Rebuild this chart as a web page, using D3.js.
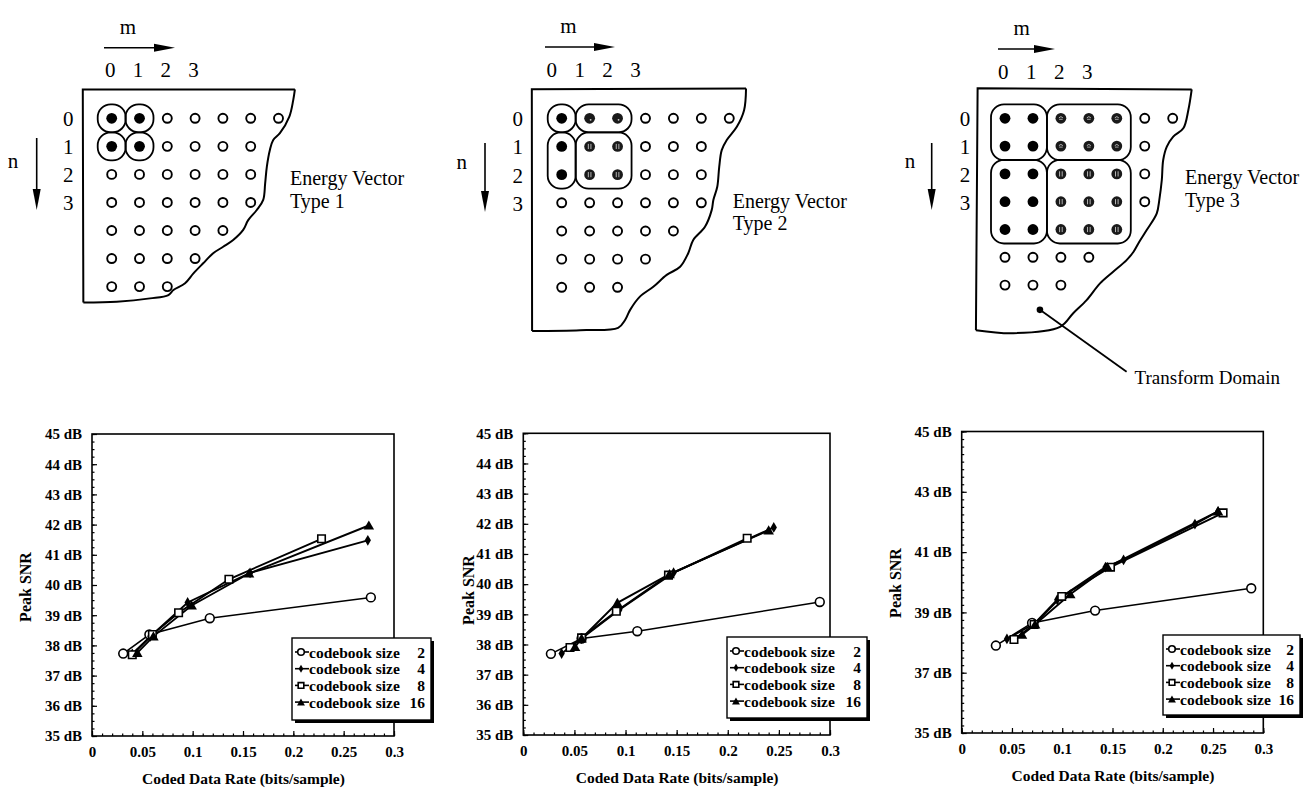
<!DOCTYPE html>
<html>
<head>
<meta charset="utf-8">
<script src="https://cdn.jsdelivr.net/npm/d3@7/dist/d3.min.js"></script>
<style>
  body { margin: 0; background: #fff; }
  svg { display: block; }
  .serif { font-family: "Liberation Serif", "Times New Roman", serif; }
</style>
</head>
<body>
<svg id="fig" width="1312" height="791"></svg>
<script>
// ---- chart data ----
const xTicks = [0, 0.05, 0.1, 0.15, 0.2, 0.25, 0.3];
const yTicksFine = [35, 36, 37, 38, 39, 40, 41, 42, 43, 44, 45];
const yTicksCoarse = [35, 37, 39, 41, 43, 45];
const codebookSizes = ["2", "4", "8", "16"];
const markerKinds = ["circle", "diamond", "square", "triangle"];

// [rate, peak SNR]
const type1Size2 = [[0.031, 37.73], [0.057, 38.36], [0.117, 38.9], [0.277, 39.59]];
const type1Size4 = [[0.040, 37.72], [0.058, 38.3], [0.095, 39.42], [0.157, 40.4], [0.274, 41.48]];
const type1Size8 = [[0.040, 37.69], [0.060, 38.36], [0.086, 39.08], [0.136, 40.19], [0.228, 41.53]];
const type1Size16 = [[0.045, 37.75], [0.061, 38.3], [0.099, 39.32], [0.156, 40.38], [0.275, 41.97]];

const type2Size2 = [[0.027, 37.69], [0.057, 38.2], [0.1115, 38.44], [0.290, 39.41]];
const type2Size4 = [[0.0375, 37.7], [0.057, 38.2], [0.094, 39.15], [0.147, 40.38], [0.245, 41.88]];
const type2Size8 = [[0.0457, 37.9], [0.057, 38.22], [0.091, 39.1], [0.142, 40.3], [0.219, 41.52]];
const type2Size16 = [[0.0506, 37.92], [0.057, 38.2], [0.092, 39.38], [0.143, 40.33], [0.240, 41.78]];

const type3Size2 = [[0.034, 37.9], [0.070, 38.65], [0.1327, 39.06], [0.288, 39.8]];
const type3Size4 = [[0.045, 38.12], [0.072, 38.62], [0.095, 39.42], [0.143, 40.5], [0.161, 40.74], [0.232, 41.93], [0.255, 42.35]];
const type3Size8 = [[0.052, 38.1], [0.072, 38.6], [0.0995, 39.53], [0.148, 40.5], [0.260, 42.3]];
const type3Size16 = [[0.060, 38.26], [0.073, 38.6], [0.108, 39.6], [0.145, 40.5], [0.255, 42.35]];

// ---- diagram data ----
const rowCounts = [7, 6, 6, 6, 5, 4, 3];
const indexLabels = ["0", "1", "2", "3"];

// cells are [col, row]
const type1Cells = { solid: [[0, 0], [1, 0], [0, 1], [1, 1]], dotted: [], hatchH: [], hatchV: [] };
const type1Groups = [[0, 0, 0, 0], [1, 1, 0, 0], [0, 0, 1, 1], [1, 1, 1, 1]]; // c0,c1,r0,r1
const type2Cells = {
  solid: [[0, 0], [0, 1], [0, 2]],
  dotted: [[1, 0], [2, 0]],
  hatchH: [],
  hatchV: [[1, 1], [2, 1], [1, 2], [2, 2]]
};
const type2Groups = [[0, 0, 0, 0], [1, 2, 0, 0], [0, 0, 1, 2], [1, 2, 1, 2]];
const type3Cells = {
  solid: [[0, 0], [1, 0], [0, 1], [1, 1], [0, 2], [1, 2], [0, 3], [1, 3], [0, 4], [1, 4]],
  dotted: [],
  hatchH: [[2, 0], [3, 0], [4, 0], [2, 1], [3, 1], [4, 1]],
  hatchV: [[2, 2], [3, 2], [4, 2], [2, 3], [3, 3], [4, 3], [2, 4], [3, 4], [4, 4]]
};
const type3Groups = [[0, 1, 0, 1], [2, 4, 0, 1], [0, 1, 2, 4], [2, 4, 2, 4]];

// outlines in grid units: corner, right wavy edge, bottom
const type1Edge = [[6.59, -1.03], [6.53, -0.65], [6.39, -0.06], [6.05, 0.53], [5.81, 0.77], [5.69, 1.13],
  [5.58, 1.73], [5.52, 2.32], [5.45, 2.91], [5.22, 3.27], [4.91, 3.63], [4.73, 3.98], [4.37, 4.34],
  [4.01, 4.58], [3.65, 4.81], [3.29, 5.17], [2.94, 5.53], [2.64, 5.88], [2.22, 6.12], [2.04, 6.30],
  [1.38, 6.42], [0.18, 6.54], [-1.02, 6.57]];
const type1Corner = [-1.04, -1.03];
const type2Edge = [[6.6, -1.06], [6.53, -0.29], [6.27, 0.30], [5.91, 0.77], [5.73, 1.13], [5.64, 1.72],
  [5.57, 2.43], [5.43, 2.90], [5.37, 3.26], [5.13, 3.85], [4.71, 4.32], [4.53, 4.79], [4.24, 5.27],
  [3.76, 5.56], [3.28, 5.98], [2.80, 6.33], [2.45, 6.80], [2.27, 7.16], [2.02, 7.44],
  [0.66, 7.52], [-1.06, 7.55]];
const type2Corner = [-1.07, -1.03];
const type3Edge = [[6.68, -1.04], [6.56, -0.30], [6.38, 0.36], [6.02, 0.66], [5.79, 1.02], [5.66, 1.5],
  [5.61, 2.22], [5.52, 2.94], [5.43, 3.42], [5.07, 4.02], [4.8, 4.45], [4.6, 4.8], [4.35, 5.1],
  [3.87, 5.52], [3.40, 5.94], [2.92, 6.54], [2.44, 7.01], [1.97, 7.5], [0.30, 7.73], [-1.04, 7.62]];
const type3Corner = [-0.98, -1.08];
const transformPointer = [[1.25, 6.89], [4.35, 9.12]];

const svg = d3.select("#fig");
svg.append("rect").attr("width", 1312).attr("height", 791).attr("fill", "#fff");

// ---------------- diagrams ----------------
const diagrams = [
  { cells: type1Cells, groups: type1Groups, edge: type1Edge, corner: type1Corner,
    x0: 111.7, step: 27.8, y0: 118.3, rowStep: 28.05, colLabOff: -1.5, colLabY: 70.3, rowLabX: 68.3,
    m: [128, 34], mArrow: [104, 175, 47.7], n: [13, 168], nArrow: [36.7, 138, 210],
    title: ["Energy Vector", "Type 1"], titleX: 290, titleY: [185, 208] },
  { cells: type2Cells, groups: type2Groups, edge: type2Edge, corner: type2Corner,
    x0: 561.7, step: 27.93, y0: 118.3, rowStep: 28.17, colLabOff: -10, colLabY: 70, rowLabX: 517.7,
    m: [568.3, 33], mArrow: [545, 615, 47], n: [461.7, 169], nArrow: [485, 143, 212],
    title: ["Energy Vector", "Type 2"], titleX: 732.7, titleY: [208, 230] },
  { cells: type3Cells, groups: type3Groups, edge: type3Edge, corner: type3Corner,
    x0: 1005, step: 27.95, y0: 118.3, rowStep: 27.8, colLabOff: -1.7, colLabY: 71.7, rowLabX: 965,
    m: [1021.7, 35], mArrow: [998, 1055, 49], n: [910, 168], nArrow: [931.7, 143, 210],
    title: ["Energy Vector", "Type 3"], titleX: 1185, titleY: [184, 207], pointer: true }
];

function arrowHead(g, tip, dir) {
  // dir: "right" or "down"
  const L = 21, W = 4;
  const pts = dir === "right"
    ? [[tip[0], tip[1]], [tip[0] - L, tip[1] - W], [tip[0] - L, tip[1] + W]]
    : [[tip[0], tip[1]], [tip[0] - W, tip[1] - L], [tip[0] + W, tip[1] - L]];
  g.append("path").attr("d", "M" + pts.join("L") + "Z").attr("fill", "#000");
}

diagrams.forEach(d => {
  const g = svg.append("g").attr("class", "serif");
  const cx = d3.scaleLinear().domain([0, 1]).range([d.x0, d.x0 + d.step]);
  const cy = d3.scaleLinear().domain([0, 1]).range([d.y0, d.y0 + d.rowStep]);

  // outline: straight left and top edges, wavy right edge
  const bl = d.edge[d.edge.length - 1];
  const straight = d3.line().x(p => cx(p[0])).y(p => cy(p[1]));
  g.append("path").attr("d", straight([bl, d.corner, d.edge[0]]))
    .attr("fill", "none").attr("stroke", "#000").attr("stroke-width", 2);
  const wavy = d3.line().x(p => cx(p[0])).y(p => cy(p[1])).curve(d3.curveCatmullRom.alpha(0.5));
  g.append("path").attr("d", wavy(d.edge))
    .attr("fill", "none").attr("stroke", "#000").attr("stroke-width", 2);

  // groups
  const pad = 14;
  d.groups.forEach(([c0, c1, r0, r1]) => {
    g.append("rect")
      .attr("x", cx(c0) - pad).attr("y", cy(r0) - pad)
      .attr("width", cx(c1) - cx(c0) + 2 * pad).attr("height", cy(r1) - cy(r0) + 2 * pad)
      .attr("rx", 13).attr("fill", "none").attr("stroke", "#000").attr("stroke-width", 1.8);
  });

  // cells
  const kindOf = {};
  Object.entries(d.cells).forEach(([k, list]) => list.forEach(([c, r]) => { kindOf[c + "," + r] = k; }));
  const cells = [];
  rowCounts.forEach((n, r) => d3.range(n).forEach(c => cells.push({ c, r, kind: kindOf[c + "," + r] || "open" })));

  cells.forEach(p => {
    const x = cx(p.c), y = cy(p.r);
    if (p.kind === "open") {
      g.append("circle").attr("cx", x).attr("cy", y).attr("r", 4.5)
        .attr("fill", "#fff").attr("stroke", "#000").attr("stroke-width", 1.9);
    } else {
      g.append("circle").attr("cx", x).attr("cy", y).attr("r", 5.4).attr("fill", p.kind === "solid" ? "#000" : "#1a1a1a");
      if (p.kind === "hatchV") {
        [-1.3, 1.3].forEach(o => g.append("line").attr("x1", x + o).attr("x2", x + o)
          .attr("y1", y - 2.6).attr("y2", y + 2.6).attr("stroke", "#ddd").attr("stroke-width", 0.8));
      } else if (p.kind === "hatchH") {
        g.append("path").attr("d", `M${x - 2},${y - 0.5}Q${x},${y - 2.8} ${x + 2},${y - 0.5}`)
          .attr("fill", "none").attr("stroke", "#ddd").attr("stroke-width", 0.8);
        g.append("line").attr("x1", x - 1.8).attr("x2", x + 1.8).attr("y1", y + 1).attr("y2", y + 1)
          .attr("stroke", "#ddd").attr("stroke-width", 0.7);
      } else if (p.kind === "dotted") {
        g.append("circle").attr("cx", x + 1).attr("cy", y + 1.5).attr("r", 0.9).attr("fill", "#ccc");
      }
    }
  });

  // index labels
  indexLabels.forEach((t, i) => {
    g.append("text").attr("x", cx(i) + d.colLabOff).attr("y", d.colLabY)
      .attr("text-anchor", "middle").attr("dominant-baseline", "central")
      .attr("font-size", 21).text(t);
    g.append("text").attr("x", d.rowLabX).attr("y", cy(i) + 1)
      .attr("text-anchor", "middle").attr("dominant-baseline", "central")
      .attr("font-size", 21).text(t);
  });

  // m / n arrows
  g.append("text").attr("x", d.m[0]).attr("y", d.m[1]).attr("text-anchor", "middle")
    .attr("font-size", 21).text("m");
  g.append("line").attr("x1", d.mArrow[0]).attr("x2", d.mArrow[1] - 10)
    .attr("y1", d.mArrow[2]).attr("y2", d.mArrow[2]).attr("stroke", "#000").attr("stroke-width", 1.6);
  arrowHead(g, [d.mArrow[1], d.mArrow[2]], "right");

  g.append("text").attr("x", d.n[0]).attr("y", d.n[1]).attr("text-anchor", "middle")
    .attr("font-size", 21).text("n");
  g.append("line").attr("x1", d.nArrow[0]).attr("x2", d.nArrow[0])
    .attr("y1", d.nArrow[1]).attr("y2", d.nArrow[2] - 10).attr("stroke", "#000").attr("stroke-width", 1.6);
  arrowHead(g, [d.nArrow[0], d.nArrow[2]], "down");

  d.title.forEach((t, i) => g.append("text").attr("x", d.titleX).attr("y", d.titleY[i])
    .attr("font-size", 20).text(t));

  if (d.pointer) {
    const [a, b] = transformPointer;
    g.append("circle").attr("cx", cx(a[0])).attr("cy", cy(a[1])).attr("r", 3.3).attr("fill", "#000");
    g.append("line").attr("x1", cx(a[0])).attr("y1", cy(a[1])).attr("x2", cx(b[0])).attr("y2", cy(b[1]))
      .attr("stroke", "#000").attr("stroke-width", 1.8);
    g.append("text").attr("x", cx(b[0]) + 8).attr("y", cy(b[1]) + 12)
      .attr("font-size", 19).text("Transform Domain");
  }
});

// ---------------- charts ----------------
const panels = [
  { series: [type1Size2, type1Size4, type1Size8, type1Size16], yTicks: yTicksFine,
    left: 92, right: 394, top: 434, bottom: 736, legend: [292, 638, 139, 82],
    yTitle: [25, 587] },
  { series: [type2Size2, type2Size4, type2Size8, type2Size16], yTicks: yTicksFine,
    left: 523.3, right: 830, top: 433.3, bottom: 735, legend: [727, 637, 140, 81],
    yTitle: [468, 590] },
  { series: [type3Size2, type3Size4, type3Size8, type3Size16], yTicks: yTicksCoarse,
    left: 961.7, right: 1263.3, top: 431.5, bottom: 733, legend: [1163, 635, 137, 80],
    yTitle: [895, 583] }
];

const fontBold = g => g.attr("font-family", "'Liberation Serif', 'Times New Roman', serif").attr("font-weight", "bold");

function marker(g, kind, x, y, scale) {
  const s = scale || 1;
  if (kind === "circle") {
    g.append("circle").attr("cx", x).attr("cy", y).attr("r", 4.4 * s)
      .attr("fill", "#fff").attr("stroke", "#000").attr("stroke-width", 1.6);
  } else if (kind === "square") {
    g.append("path").attr("transform", `translate(${x},${y})`)
      .attr("d", d3.symbol(d3.symbolSquare, 56 * s * s)())
      .attr("fill", "#fff").attr("stroke", "#000").attr("stroke-width", 1.6);
  } else if (kind === "diamond") {
    g.append("path").attr("transform", `translate(${x},${y})`)
      .attr("d", d3.symbol(d3.symbolDiamond, 34 * s * s)()).attr("fill", "#000");
  } else {
    g.append("path").attr("transform", `translate(${x},${y + 1})`)
      .attr("d", d3.symbol(d3.symbolTriangle, 48 * s * s)()).attr("fill", "#000");
  }
}

panels.forEach(p => {
  const g = svg.append("g").call(fontBold);
  const x = d3.scaleLinear().domain([0, 0.3]).range([p.left, p.right]);
  const y = d3.scaleLinear().domain([35, 45]).range([p.bottom, p.top]);

  // minor ticks
  g.append("g").attr("transform", `translate(0,${p.bottom})`)
    .call(d3.axisBottom(x).tickValues(d3.range(0, 0.3001, 0.01)).tickSize(-2.5).tickFormat(""))
    .call(a => a.select(".domain").remove());
  g.append("g").attr("transform", `translate(${p.left},0)`)
    .call(d3.axisLeft(y).tickValues(d3.range(35, 45.001, 0.25)).tickSize(-2.5).tickFormat(""))
    .call(a => a.select(".domain").remove());

  const xa = g.append("g").attr("transform", `translate(0,${p.bottom})`)
    .call(d3.axisBottom(x).tickValues(xTicks).tickSize(-5).tickPadding(10).tickFormat(d => String(d)));
  const ya = g.append("g").attr("transform", `translate(${p.left},0)`)
    .call(d3.axisLeft(y).tickValues(p.yTicks).tickSize(-5).tickPadding(10).tickFormat(d => d + " dB"));
  [xa, ya].forEach(a => {
    a.select(".domain").remove();
    a.selectAll("text").attr("font-size", 15).attr("fill", "#000")
      .attr("font-family", "'Liberation Serif', serif").attr("font-weight", "bold");
  });
  g.selectAll(".tick line").attr("stroke", "#000").attr("stroke-width", 1.2);

  g.append("rect").attr("x", p.left).attr("y", p.top)
    .attr("width", p.right - p.left).attr("height", p.bottom - p.top)
    .attr("fill", "none").attr("stroke", "#000").attr("stroke-width", 1.6);

  const line = d3.line().x(d => x(d[0])).y(d => y(d[1]));
  p.series.forEach((s, i) => {
    g.append("path").attr("d", line(s)).attr("fill", "none")
      .attr("stroke", "#000").attr("stroke-width", i === 0 ? 1.5 : 1.9);
  });
  p.series.forEach((s, i) => s.forEach(d => marker(g, markerKinds[i], x(d[0]), y(d[1]))));

  // titles
  g.append("text").attr("x", (p.left + p.right) / 2 + 0.5).attr("y", p.bottom + 48)
    .attr("text-anchor", "middle").attr("font-size", 15.5).text("Coded Data Rate (bits/sample)");
  g.append("text").attr("transform", `translate(${p.yTitle[0]},${p.yTitle[1]}) rotate(-90)`)
    .attr("text-anchor", "middle").attr("dominant-baseline", "central")
    .attr("font-size", 16).text("Peak SNR");

  // legend with drop shadow
  const [lx, ly, lw, lh] = p.legend;
  g.append("rect").attr("x", lx + 3).attr("y", ly + 3).attr("width", lw).attr("height", lh).attr("fill", "#000");
  g.append("rect").attr("x", lx).attr("y", ly).attr("width", lw).attr("height", lh)
    .attr("fill", "#fff").attr("stroke", "#000").attr("stroke-width", 1.4);
  codebookSizes.forEach((sz, i) => {
    const ry = ly + 14 + i * 16.7;
    g.append("line").attr("x1", lx + 3).attr("x2", lx + 17).attr("y1", ry).attr("y2", ry)
      .attr("stroke", "#000").attr("stroke-width", 1.6);
    marker(g, markerKinds[i], lx + 9, ry, 0.75);
    g.append("text").attr("x", lx + 17).attr("y", ry).attr("dominant-baseline", "central")
      .attr("font-size", 15.5).text("codebook size");
    g.append("text").attr("x", lx + lw - 6).attr("y", ry).attr("dominant-baseline", "central")
      .attr("text-anchor", "end").attr("font-size", 15.5).text(sz);
  });
});
</script>
</body>
</html>
